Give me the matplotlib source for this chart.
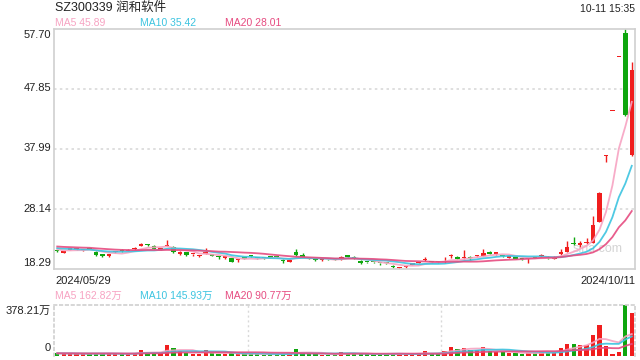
import numpy as np
import pandas as pd
import matplotlib
matplotlib.use("Agg")
import matplotlib.pyplot as plt

plt.rcParams['font.family'] = ['Liberation Sans', 'Noto Sans CJK SC', 'DejaVu Sans']

# daily candles 2024/05/29 .. 2024/10/11 (price in yuan, volume in 万)
open_p = [21.30, 20.98, 21.45, 21.55, 21.38, 21.65, 21.13, 20.75, 20.42, 21.00,
          21.40, 21.25, 21.55, 22.07, 22.35, 22.07, 21.45, 22.07, 21.85, 20.75,
          21.08, 20.70, 20.42, 20.80, 20.70, 20.42, 20.15, 20.05, 19.70, 20.00,
          20.45, 20.07, 20.06, 20.17, 20.22, 19.77, 19.50, 21.10, 20.60, 20.05,
          19.80, 19.70, 19.90, 19.84, 19.88, 20.45, 20.10, 19.60, 19.42, 19.40,
          19.25, 19.24, 18.85, 18.40, 18.60, 18.98, 19.25, 19.70, 19.55, 19.50,
          19.40, 20.35, 20.30, 20.10, 20.15, 20.38, 20.42, 21.13, 20.80, 20.50,
          20.15, 20.30, 19.90, 19.85, 20.18, 20.40, 20.30, 19.95, 20.75, 21.13,
          22.60, 22.30, 22.55, 22.60, 26.06, 36.86, 44.23, 53.08, 56.99, 37.00]
close_p = [21.20, 21.05, 21.55, 21.65, 21.45, 21.60, 20.54, 20.50, 20.75, 21.10,
           21.20, 21.40, 21.70, 22.35, 22.18, 21.62, 21.55, 22.25, 21.15, 21.13,
           20.60, 20.78, 20.50, 20.95, 20.48, 20.22, 20.25, 19.50, 19.80, 19.97,
           20.40, 20.03, 20.04, 20.13, 20.19, 19.62, 19.77, 20.60, 20.33, 19.90,
           19.75, 19.80, 19.87, 19.80, 20.30, 20.30, 19.98, 19.22, 19.38, 19.36,
           19.20, 19.20, 18.58, 18.55, 18.72, 19.08, 19.35, 19.85, 19.45, 19.36,
           19.60, 20.45, 19.90, 20.30, 20.10, 20.45, 20.97, 20.80, 20.90, 20.40,
           20.25, 19.90, 19.86, 19.90, 20.12, 20.50, 20.05, 20.25, 21.00, 21.95,
           22.35, 22.40, 22.70, 25.50, 30.72, 36.86, 44.23, 53.08, 43.50, 51.00]
high_p = [21.40, 21.20, 21.70, 21.80, 21.55, 21.75, 21.20, 20.80, 20.80, 21.20,
          21.50, 21.50, 21.85, 22.50, 22.45, 22.20, 21.70, 23.05, 22.10, 21.20,
          21.15, 20.80, 20.60, 21.70, 20.80, 20.50, 20.45, 20.10, 19.95, 20.15,
          20.55, 20.15, 20.15, 20.30, 20.35, 19.85, 19.90, 21.60, 20.90, 20.15,
          19.90, 19.90, 19.95, 19.90, 20.50, 20.60, 20.35, 19.70, 19.50, 19.50,
          19.30, 19.35, 18.95, 18.65, 18.80, 19.20, 19.50, 20.30, 19.65, 19.60,
          20.20, 20.75, 20.45, 21.40, 20.50, 20.65, 21.60, 21.25, 21.10, 20.60,
          20.35, 20.35, 20.00, 20.05, 20.25, 20.70, 20.40, 20.35, 21.55, 22.94,
          23.50, 22.90, 23.35, 27.00, 30.90, 37.00, 44.23, 53.08, 57.70, 52.20]
low_p = [21.05, 20.90, 21.35, 21.45, 21.30, 21.50, 20.50, 20.30, 20.20, 20.90,
         21.10, 21.20, 21.45, 22.00, 22.10, 21.55, 21.35, 22.00, 20.85, 20.55,
         20.50, 20.40, 20.30, 20.75, 20.40, 19.95, 19.95, 19.45, 19.50, 19.85,
         20.30, 19.95, 19.95, 20.05, 20.05, 19.20, 19.40, 20.50, 20.25, 19.85,
         19.60, 19.65, 19.80, 19.75, 19.80, 20.25, 19.90, 19.15, 19.25, 19.30,
         18.90, 19.10, 18.50, 18.29, 18.50, 18.90, 19.20, 19.60, 19.35, 19.30,
         19.35, 20.10, 19.85, 20.00, 19.80, 20.25, 20.35, 20.75, 20.65, 20.30,
         20.10, 19.85, 19.75, 19.30, 20.05, 20.30, 20.00, 19.90, 20.60, 21.05,
         22.20, 21.95, 22.40, 22.50, 26.00, 35.90, 44.23, 53.08, 43.40, 36.90]
volume = [20, 18, 17, 16, 15, 16, 22, 20, 18, 15,
          14, 16, 22, 45, 25, 22, 20, 82, 60, 38,
          22, 18, 16, 43, 20, 18, 15, 22, 15, 13,
          16, 12, 11, 12, 13, 18, 15, 55, 25, 16,
          12, 11, 10, 10, 30, 22, 16, 20, 12, 11,
          13, 12, 18, 16, 14, 15, 18, 38, 18, 18,
          38, 68, 55, 63, 45, 45, 68, 38, 30, 30,
          22, 22, 15, 22, 22, 32, 28, 28, 58, 90,
          88, 81, 81, 159, 227, 76, 13, 28, 378.21, 320]

# closes / volumes of the days just before the window, so the MAs start at the left edge
pre_close = [22.4, 22.3, 22.5, 22.2, 22.1, 22.3, 22.0, 22.2, 22.4, 22.1,
             21.9, 22.0, 22.2, 21.8, 21.7, 21.9, 21.6, 21.5, 21.4]
pre_volume = [22, 20, 24, 21, 19, 23, 20, 18, 22, 21,
              19, 20, 23, 18, 20, 21, 19, 18, 20]

first_date, last_date = "2024/05/29", "2024/10/11"
price_ticks = [57.70, 47.85, 37.99, 28.14, 18.29]
vol_top = 378.21
ma_price_text = ['MA5 45.89', 'MA10 35.42', 'MA20 28.01']
ma_vol_text = ['MA5 162.82万', 'MA10 145.93万', 'MA20 90.77万']

RED, GREEN = '#f01e1e', '#0ea60e'
C_MA5, C_MA10, C_MA20 = '#f7a3c2', '#3cc4e0', '#e64b80'
W, H = 640, 360

n = len(close_p)
o, c = np.array(open_p), np.array(close_p)
prev = np.r_[pre_close[-1], c[:-1]]
up = (c > o) | ((c == o) & (c >= prev))
colors = np.where(up, RED, GREEN)

cs = pd.Series(pre_close + close_p)
vs = pd.Series(pre_volume + volume)
k = len(pre_close)
ma = {m: cs.rolling(m, min_periods=1).mean().values[k:] for m in (5, 10, 20)}
vma = {m: vs.rolling(m, min_periods=1).mean().values[k:] for m in (5, 10, 20)}

fig = plt.figure(figsize=(6.4, 3.6), dpi=100)


def box(x0, y0, x1, y1):
    return [x0 / W, 1 - y1 / H, (x1 - x0) / W, (y1 - y0) / H]


def txt(x, y, s, **kw):
    kw.setdefault('fontsize', 7.5)
    kw.setdefault('va', 'center')
    fig.text(x / W, 1 - y / H, s, **kw)


ax = fig.add_axes(box(54, 29, 635, 269))
axv = fig.add_axes(box(54, 305, 635, 356))
x = np.arange(n)

# price panel
for yv in price_ticks[1:-1]:
    ax.axhline(yv, color='#d9d9d9', lw=1.2, ls=(0, (1.5, 2)), zorder=0)
ax.vlines(x, low_p, high_p, colors=colors, lw=1, zorder=2)
body = np.maximum(np.abs(c - o), 0.22)
ax.bar(x, body, bottom=np.minimum(o, c), width=0.7, color=colors, lw=0, zorder=2)
ax.plot(x, ma[5], color=C_MA5, lw=1.3, alpha=0.9, zorder=3)
ax.plot(x, ma[10], color=C_MA10, lw=1.3, alpha=0.9, zorder=3)
ax.plot(x, ma[20], color=C_MA20, lw=1.3, alpha=0.9, zorder=3)
ax.text(623 / W, 1 - 249 / H, 'sina.com', transform=fig.transFigure, ha='right', va='center',
        fontsize=9, color='#d4d4d4', zorder=0.5)
ax.set_xlim(-0.5, n - 0.5)
ax.set_ylim(price_ticks[-1], price_ticks[0])
ax.set_xticks([])
ax.set_yticks([])
for s in ax.spines.values():
    s.set_color('#d0d0d0')
    s.set_linewidth(1.2)

# volume panel
axv.bar(x, volume, width=0.66, color=colors, lw=0, zorder=2)
axv.plot(x, vma[5], color=C_MA5, lw=1.3, alpha=0.9, zorder=3)
axv.plot(x, vma[10], color=C_MA10, lw=1.3, alpha=0.9, zorder=3)
axv.plot(x, vma[20], color=C_MA20, lw=1.3, alpha=0.9, zorder=3)
for xv in (n / 3 - 0.5, 2 * n / 3 - 0.5):
    axv.axvline(xv, color='#d9d9d9', lw=1, ls=(0, (1.5, 2)), zorder=0)
axv.set_xlim(-0.5, n - 0.5)
axv.set_ylim(0, vol_top)
axv.set_xticks([])
axv.set_yticks([])
for s in axv.spines.values():
    s.set_color('#d0d0d0')
    s.set_linewidth(1.2)
    s.set_linestyle((0, (1.5, 2)))
axv.spines['bottom'].set_visible(False)

# texts
txt(55, 8, 'SZ300339 润和软件', fontsize=9, color='#222222')
txt(635, 9, '10-11 15:35', fontsize=7.5, ha='right', color='#222222')
for xp, s, col in zip([55, 140, 225], ma_price_text, [C_MA5, C_MA10, C_MA20]):
    txt(xp, 23, s, color=col)
for yv, yp in zip(price_ticks, [35, 88, 148, 209, 263]):
    txt(51, yp, f'{yv:.2f}', ha='right', fontsize=8, color='#222222')
txt(55, 281, first_date, fontsize=8, color='#222222')
txt(635, 281, last_date, fontsize=8, ha='right', color='#222222')
for xp, s, col in zip([55, 140, 225], ma_vol_text, [C_MA5, C_MA10, C_MA20]):
    txt(xp, 296, s, color=col)
txt(51, 311, f'{vol_top:.2f}万', ha='right', fontsize=8, color='#222222')
txt(51, 348, '0', ha='right', fontsize=8, color='#222222')

fig.savefig('out.png', dpi=100)
